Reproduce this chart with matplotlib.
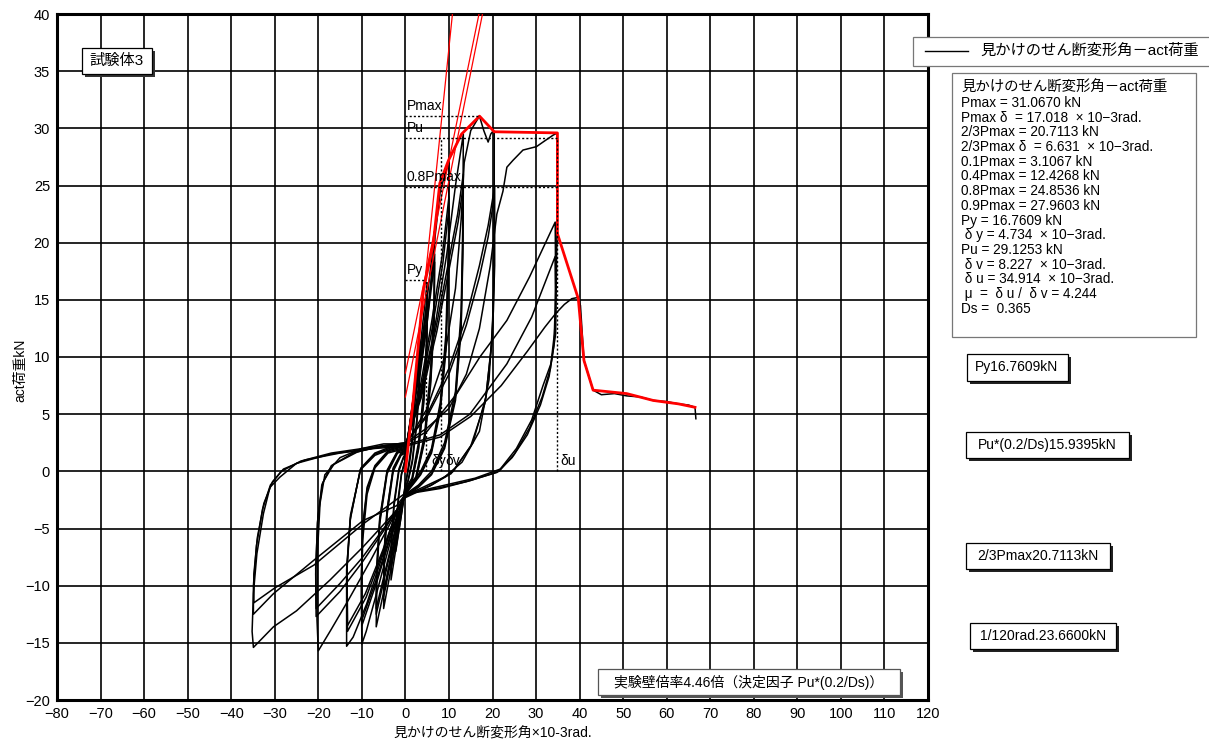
import matplotlib
matplotlib.use('Agg')
import matplotlib.pyplot as plt
from matplotlib.patches import Rectangle
from matplotlib.lines import Line2D

# 見かけのせん断変形角 (x10-3 rad) / act荷重 (kN) : 各サイクルの読み取り値
c01_d = [0, 0.6, 1.3, 2.2, 2.1, 1.6, 0.9, 0.3, 0, -0.6, -1.4, -2.2, -2.1, -1.6, -0.9, -0.2, 0]
c01_p = [0, 2.5, 5.0, 7.5, 5.5, 3.0, 1.0, -0.5, -1.0, -3.0, -5.0, -7.0, -5.0, -2.5, -0.3, 0.8, 1.0]
c02_d = [0, 0.7, 1.5, 2.2, 2.1, 1.6, 0.9, 0.3, 0, -0.7, -1.5, -2.2, -2.1, -1.6, -0.9, -0.2, 0]
c02_p = [1.0, 2.8, 4.8, 6.8, 4.8, 2.5, 0.6, -0.6, -1.1, -2.9, -4.6, -6.2, -4.4, -2.2, -0.2, 0.8, 1.1]
c03_d = [0, 1.0, 2.2, 3.3, 3.2, 2.6, 1.6, 0.6, 0, -1.0, -2.2, -3.3, -3.2, -2.6, -1.5, -0.4, 0]
c03_p = [1.1, 4.0, 7.5, 11.5, 8.0, 4.5, 1.0, -0.8, -1.3, -4.0, -6.8, -9.5, -6.5, -3.0, 0.0, 1.2, 1.4]
c04_d = [0, 1.1, 2.3, 3.3, 3.2, 2.6, 1.6, 0.6, 0, -1.1, -2.3, -3.3, -3.2, -2.6, -1.5, -0.4, 0]
c04_p = [1.4, 4.2, 7.2, 10.4, 7.2, 4.0, 0.8, -0.9, -1.4, -3.8, -6.3, -8.6, -5.8, -2.7, 0.2, 1.3, 1.5]
c05_d = [0, 1.5, 3.3, 5.0, 4.9, 4.2, 3.0, 1.5, 0, -1.5, -3.3, -5.0, -4.9, -4.2, -2.8, -1.0, 0]
c05_p = [1.5, 5.5, 10.5, 16.5, 12.0, 7.0, 2.5, -0.6, -1.5, -4.8, -8.5, -12.0, -8.0, -3.8, 0.0, 1.4, 1.6]
c06_d = [0, 1.6, 3.4, 5.0, 4.9, 4.2, 3.0, 1.5, 0, -1.6, -3.4, -5.0, -4.9, -4.2, -2.8, -1.0, 0]
c06_p = [1.6, 5.5, 10.0, 15.0, 10.8, 6.2, 2.0, -0.8, -1.6, -4.7, -8.0, -11.0, -7.2, -3.4, 0.2, 1.5, 1.7]
c07_d = [0, 1.7, 3.5, 5.0, 4.9, 4.2, 3.0, 1.5, 0, -1.7, -3.5, -5.0, -4.9, -4.2, -2.8, -1.0, 0]
c07_p = [1.7, 5.4, 9.7, 14.5, 10.4, 5.9, 1.9, -0.9, -1.7, -4.6, -7.8, -10.6, -7.0, -3.3, 0.3, 1.6, 1.8]
c08_d = [0, 2.0, 4.4, 6.7, 6.6, 5.8, 4.4, 2.4, 0, -2.0, -4.4, -6.7, -6.6, -5.9, -4.2, -1.8, 0]
c08_p = [1.7, 6.5, 13.0, 21.0, 15.0, 9.0, 3.2, -0.5, -1.6, -5.0, -9.5, -13.6, -9.5, -4.6, -0.2, 1.6, 1.8]
c09_d = [0, 2.2, 4.6, 6.7, 6.6, 5.8, 4.4, 2.4, 0, -2.2, -4.6, -6.7, -6.6, -5.9, -4.2, -1.8, 0]
c09_p = [1.8, 6.5, 12.5, 19.0, 13.5, 8.0, 2.8, -0.7, -1.7, -5.0, -9.0, -12.5, -8.8, -4.3, 0.0, 1.7, 1.9]
c10_d = [0, 2.3, 4.7, 6.7, 6.6, 5.8, 4.4, 2.4, 0, -2.3, -4.7, -6.7, -6.6, -5.9, -4.2, -1.8, 0]
c10_p = [1.9, 6.4, 12.2, 18.3, 13.0, 7.6, 2.6, -0.8, -1.8, -5.0, -8.8, -12.0, -8.4, -4.1, 0.1, 1.8, 2.0]
c11_d = [0, 2.5, 5.0, 6.8, 8.0, 10.0, 9.9, 9.3, 8.0, 6.0, 3.5, 0, -3.0, -6.5, -9.0, -10.0,
         -10.1, -9.8, -8.8, -7.0, -4.0, 0]
c11_p = [1.9, 6.0, 13.0, 20.5, 24.5, 27.2, 20.0, 12.0, 6.0, 2.0, 0.0, -1.8, -5.5, -10.5, -14.0, -15.1,
         -11.0, -6.0, -2.0, 0.3, 1.6, 2.0]
c12_d = [0, 3.0, 6.0, 8.5, 10.0, 9.9, 9.3, 8.0, 6.0, 3.5, 0, -3.0, -6.5, -10.0, -10.1, -9.8, -8.8,
         -7.0, -4.0, 0]
c12_p = [2.0, 6.5, 13.0, 19.0, 24.0, 18.0, 11.0, 5.5, 1.8, -0.2, -1.9, -5.2, -9.6, -13.5, -9.5, -5.0,
         -1.6, 0.4, 1.7, 2.1]
c13_d = [0, 3.2, 6.2, 8.6, 10.0, 9.9, 9.3, 8.0, 6.0, 3.5, 0, -3.0, -6.5, -10.0, -10.1, -9.8, -8.8,
         -7.0, -4.0, 0]
c13_p = [2.1, 6.4, 12.6, 18.2, 23.0, 17.2, 10.5, 5.2, 1.6, -0.3, -2.0, -5.0, -9.3, -13.0, -9.0, -4.7,
         -1.4, 0.5, 1.8, 2.2]
c14_d = [0, 3.0, 6.5, 9.5, 11.5, 13.3, 13.2, 12.8, 11.5, 9.0, 6.0, 3.0, 0, -2.0, -5.1, -8.9, -12.0,
         -13.5, -13.5, -12.7, -10.4, -7.0, -3.0, 0]
c14_p = [2.1, 6.0, 12.0, 19.0, 25.0, 29.5, 22.0, 14.0, 7.0, 2.5, 0.0, -1.2, -2.0, -3.4, -7.2, -11.6,
         -14.5, -15.3, -8.6, -4.3, 0.1, 1.4, 2.0, 2.2]
c15_d = [0, 3.5, 7.0, 10.0, 12.0, 13.3, 13.2, 12.8, 11.5, 9.0, 6.0, 3.0, 0, -2.0, -5.1, -9.0, -13.3,
         -13.4, -12.6, -10.3, -7.0, -3.0, 0]
c15_p = [2.2, 6.5, 12.5, 18.5, 22.5, 26.0, 20.0, 13.0, 6.5, 2.2, -0.2, -1.3, -2.1, -3.5, -7.0, -11.0,
         -14.0, -8.5, -4.0, 0.2, 1.5, 2.1, 2.3]
c16_d = [0, 3.6, 7.2, 10.2, 12.1, 13.3, 13.2, 12.8, 11.5, 9.0, 6.0, 3.0, 0, -2.0, -5.2, -9.2, -13.3,
         -13.4, -12.6, -10.2, -7.0, -3.0, 0]
c16_p = [2.3, 6.4, 12.2, 18.0, 21.8, 25.0, 19.0, 12.4, 6.2, 2.0, -0.3, -1.4, -2.2, -3.5, -6.9, -10.7,
         -13.5, -8.2, -3.8, 0.3, 1.6, 2.2, 2.3]
c17_d = [0, 5.0, 9.0, 11.5, 12.8, 13.5, 15.0, 17.0, 18.0, 19.0, 19.6, 20.2, 20.4, 20.4, 20.2, 19.2,
         17.0, 13.0, 9.0, 4.0, 0, -3.0, -8.0, -13.0, -17.0, -20.0, -20.3, -20.2, -19.6, -18.5,
         -15.0, -10.0, -5.0, 0]
c17_p = [2.3, 5.5, 10.0, 16.0, 22.0, 27.0, 29.8, 31.07, 29.8, 28.8, 29.5, 29.8, 29.7, 22.0, 14.0, 8.0,
         3.5, 0.8, -0.5, -1.4, -2.1, -4.2, -7.8, -11.2, -13.8, -15.7, -13.0, -7.2, -2.8, -0.3,
         1.2, 2.0, 2.4, 2.4]
c18_d = [0, 5, 10, 14, 17, 19, 20.5, 20.5, 20.0, 18.5, 15.5, 11, 6, 0, -5, -10, -15, -20.5, -20.6,
         -20.2, -19.2, -17, -12, -6, 0]
c18_p = [2.4, 5.0, 9.0, 13.5, 18.0, 21.5, 24.9, 18.0, 12.0, 6.5, 2.5, 0.0, -1.2, -2.2, -5.2, -8.0,
         -10.5, -12.7, -9.0, -4.5, -1.2, 0.5, 1.6, 2.2, 2.5]
c19_d = [0, 5, 10, 14, 17, 19, 20.4, 20.4, 19.8, 18.3, 15, 10.5, 5.5, 0, -5, -10, -15, -20.5, -20.6,
         -20.1, -19, -16.5, -11, -5.5, 0]
c19_p = [2.5, 4.8, 8.5, 12.8, 17.0, 20.5, 24.0, 17.0, 11.0, 6.0, 2.2, -0.2, -1.3, -2.3, -5.0, -7.6,
         -9.8, -12.0, -8.5, -4.0, -1.0, 0.6, 1.7, 2.2, 2.5]
c20_d = [0, 5, 10, 14, 17, 19.5, 21, 22.4, 23.3, 24.7, 27, 30.1, 31.6, 33.9, 34.9, 34.8, 34.5, 33.5,
         31.6, 29, 25.5, 21.8, 16, 8, 0, -2, -9.7, -17.3, -25, -30.3, -34.9, -35.2, -34.9, -34.1,
         -32.6, -31.1, -28.8, -25, -17.3, -8, 0]
c20_p = [2.5, 3.8, 5.5, 8.5, 12.5, 18, 22.5, 24.5, 26.6, 27.2, 28.1, 28.4, 28.8, 29.4, 29.6, 21, 12,
         9.5, 7.5, 4.5, 2, 0.2, -0.6, -1.3, -2.0, -3.4, -6.6, -9.5, -12.2, -13.6, -15.4, -14, -10.7,
         -7.2, -3.7, -1.4, -0.5, 0.7, 1.5, 2.0, 2.4]
c21_d = [0, 5, 11.8, 17.1, 23.3, 28.5, 34.4, 34.5, 34.2, 33.3, 31.4, 28.5, 25, 21.5, 15, 8, 0, -2,
         -9.7, -21.1, -30.3, -34.9, -34.9, -34.2, -32.8, -31, -28.5, -24, -17, -8, 0]
c21_p = [2.4, 3.5, 6.8, 10.0, 13.2, 17.0, 21.8, 16, 12, 9, 6.5, 3.8, 1.5, 0, -0.8, -1.5, -2.0, -3.0,
         -4.3, -7.8, -10.7, -12.5, -10, -6.5, -3.3, -1.2, 0, 0.9, 1.6, 2.1, 2.3]
c22_d = [0, 8, 14.8, 23.3, 29, 34.4, 34.5, 34.1, 33, 31, 28, 24.5, 21, 14, 7, 0, -9.7, -21, -30,
         -34.8, -34.8, -34, -32.5, -30.5, -28, -23, -15, -7, 0]
c22_p = [2.3, 3.2, 5.0, 9.4, 13.5, 18.8, 14, 11, 8.3, 5.8, 3.2, 1.2, -0.1, -0.9, -1.5, -1.9, -4.6,
         -8.2, -10.2, -11.5, -9, -5.8, -2.8, -0.9, 0.2, 1.0, 1.6, 2.0, 2.2]
c23_d = [0, 8, 15, 22, 28, 32, 34.5, 36.5, 38.2, 39.5, 40.2, 41, 43.1, 45, 48, 50.8, 54, 56.9, 60,
         62.7, 65, 66.5, 66.7]
c23_p = [2.2, 3.0, 4.8, 7.5, 10.5, 12.6, 13.8, 14.6, 15.1, 15.2, 14.5, 9.7, 7.1, 6.7, 6.8, 6.6, 6.5,
         6.2, 6.1, 5.9, 5.8, 5.6, 4.6]

# 包絡線
env_d = [0, 1.8, 4.1, 6.4, 7.9, 9.9, 12.9, 17.018, 20.4, 34.9, 34.9, 39.7, 41.0, 43.1, 50.8, 56.9,
         62.7, 66.5]
env_p = [0, 6.2, 15.8, 19.9, 25.2, 27.2, 29.5, 31.067, 29.7, 29.6, 20.8, 15.1, 9.7, 7.1, 6.8, 6.2,
         5.9, 5.6]

# 剛性ライン
k0_d, k0_p = [0, 10.8], [0, 40]
k1_d, k1_p = [0, 16.9], [8.6, 40]
k2_d, k2_p = [0, 17.7], [6.5, 40]

# 特性値
Pmax, dPmax = 31.067, 17.018
Py, dy = 16.7609, 4.734
Pu, dv, du = 29.1253, 8.227, 34.914
P08 = 24.8536

stat_lines = [
    'Pmax = 31.0670 kN',
    'Pmax δ  = 17.018  × 10−3rad.',
    '2/3Pmax = 20.7113 kN',
    '2/3Pmax δ  = 6.631  × 10−3rad.',
    '0.1Pmax = 3.1067 kN',
    '0.4Pmax = 12.4268 kN',
    '0.8Pmax = 24.8536 kN',
    '0.9Pmax = 27.9603 kN',
    'Py = 16.7609 kN',
    ' δ y = 4.734  × 10−3rad.',
    'Pu = 29.1253 kN',
    ' δ v = 8.227  × 10−3rad.',
    ' δ u = 34.914  × 10−3rad.',
    ' μ  =  δ u /  δ v = 4.244',
    'Ds =  0.365',
]

plt.rcParams['font.family'] = ['Liberation Sans', 'Noto Sans CJK JP', 'DejaVu Sans']

W, H = 1209, 745
fig = plt.figure(figsize=(W / 100, H / 100), dpi=100)
ax = fig.add_axes([57 / W, 1 - 700 / H, 871 / W, 686 / H])

cycles = [(c01_d, c01_p), (c02_d, c02_p), (c03_d, c03_p), (c04_d, c04_p), (c05_d, c05_p),
          (c06_d, c06_p), (c07_d, c07_p), (c08_d, c08_p), (c09_d, c09_p), (c10_d, c10_p),
          (c11_d, c11_p), (c12_d, c12_p), (c13_d, c13_p), (c14_d, c14_p), (c15_d, c15_p),
          (c16_d, c16_p), (c17_d, c17_p), (c18_d, c18_p), (c19_d, c19_p), (c20_d, c20_p),
          (c21_d, c21_p), (c22_d, c22_p), (c23_d, c23_p)]
for d, p in cycles:
    ax.plot(d, p, color='black', lw=1.1, zorder=3)

for d, p in [(k0_d, k0_p), (k1_d, k1_p), (k2_d, k2_p)]:
    ax.plot(d, p, color='red', lw=0.9, zorder=4)
ax.plot(env_d, env_p, color='red', lw=2.0, zorder=5)

# 点線
dot = dict(color='black', lw=1.0, ls=(0, (1.5, 1.5)), zorder=6)
ax.plot([0, dPmax], [Pmax, Pmax], **dot)
ax.plot([0, du], [Pu, Pu], **dot)
ax.plot([0, du], [P08, P08], **dot)
ax.plot([0, dy], [Py, Py], **dot)
ax.plot([dy, dy], [0, Py], **dot)
ax.plot([dv, dv], [0, Pu], **dot)
ax.plot([du, du], [0, Pu], **dot)

ax.text(0.3, 31.3, 'Pmax', fontsize=10, va='bottom', zorder=7)
ax.text(0.3, 29.4, 'Pu', fontsize=10, va='bottom', zorder=7)
ax.text(0.3, 25.1, '0.8Pmax', fontsize=10, va='bottom', zorder=7)
ax.text(0.3, 17.0, 'Py', fontsize=10, va='bottom', zorder=7)
ax.text(5.9, 0.3, 'δy', fontsize=10, va='bottom', zorder=7)
ax.text(9.2, 0.3, 'δv', fontsize=10, va='bottom', zorder=7)
ax.text(35.6, 0.3, 'δu', fontsize=10, va='bottom', zorder=7)

ax.set_xlim(-80, 120)
ax.set_ylim(-20, 40)
ax.set_xticks(range(-80, 121, 10))
ax.set_yticks(range(-20, 41, 5))
ax.grid(True, color='black', lw=1.2)
ax.set_axisbelow(True)
for s in ax.spines.values():
    s.set_linewidth(2.2)
ax.tick_params(length=0, labelsize=10.5, pad=5)
ax.set_xlabel('見かけのせん断変形角×10-3rad.', fontsize=10, labelpad=3)
ax.set_ylabel('act荷重kN', fontsize=10, labelpad=0)
ax.yaxis.set_label_coords(-0.034, 0.48)


def fbox(x0, y0, x1, y1, shadow=None, ec='black', lw=0.9):
    if shadow:
        fig.add_artist(Rectangle(((x0 + 3) / W, 1 - (y1 + 3) / H), (x1 - x0) / W, (y1 - y0) / H,
                                 fc=shadow, ec='none', zorder=8))
    fig.add_artist(Rectangle((x0 / W, 1 - y1 / H), (x1 - x0) / W, (y1 - y0) / H,
                             fc='white', ec=ec, lw=lw, zorder=9))


def ftext(x, y, s, fs, ha='center'):
    fig.text(x / W, 1 - y / H, s, fontsize=fs, ha=ha, va='center', zorder=10)


fbox(82, 48, 152, 74, shadow='#333333')
ftext(117, 61, '試験体3', 11)

# 凡例
fbox(913, 37, 1215, 66, ec='#777777')
fig.add_artist(Line2D([925 / W, 968 / W], [1 - 51 / H, 1 - 51 / H], color='black', lw=1.0, zorder=10))
ftext(980, 51, '見かけのせん断変形角－act荷重', 11, ha='left')

# 特性値ボックス
fbox(952, 73, 1196, 337, ec='#777777')
ftext(961, 88, '見かけのせん断変形角－act荷重', 10.4, ha='left')
for i, s in enumerate(stat_lines):
    ftext(961, 103 + 14.7 * i, s, 9.8, ha='left')

fbox(967, 354, 1068, 381, shadow='#222222')
ftext(1017, 367, 'Py16.7609kN', 10)
fbox(966, 432, 1129, 458, shadow='#222222')
ftext(1047, 445, 'Pu*(0.2/Ds)15.9395kN', 10)
fbox(966, 543, 1110, 569, shadow='#222222')
ftext(1038, 556, '2/3Pmax20.7113kN', 10)
fbox(970, 623, 1116, 649, shadow='#222222')
ftext(1043, 636, '1/120rad.23.6600kN', 10)

fbox(598, 669, 900, 695, shadow='#555555', ec='#555555')
ftext(749, 682, '実験壁倍率4.46倍（決定因子 Pu*(0.2/Ds)）', 10)

fig.savefig('out.png', dpi=100)
